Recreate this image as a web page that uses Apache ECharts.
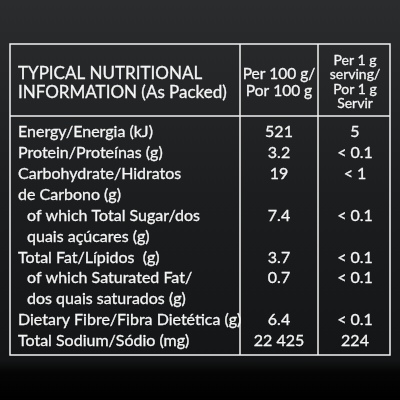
<!DOCTYPE html>
<html>
<head>
<meta charset="utf-8">
<script src="https://cdn.jsdelivr.net/npm/echarts@6/dist/echarts.min.js"></script>
<style>
  html,body{margin:0;padding:0;background:#000;}
  #main{width:400px;height:400px;}
</style>
</head>
<body>
<div id="main"></div>
<script>
// 行标签（两行的项目拆开写）
var rowLabels = [
  'Energy/Energia (kJ)',
  'Protein/Proteínas (g)',
  'Carbohydrate/Hidratos',
  'de Carbono (g)',
  '  of which Total Sugar/dos',
  '  quais açúcares (g)',
  'Total Fat/Lípidos  (g)',
  '  of which Saturated Fat/',
  '  dos quais saturados (g)',
  'Dietary Fibre/Fibra Dietética (g)',
  'Total Sodium/Sódio (mg)'
];
var per100 = ['521', '3.2', '19', '', '7.4', '', '3.7', '0.7', '', '6.4', '22 425'];
var perServing = ['5', '< 0.1', '< 1', '', '< 0.1', '', '< 0.1', '< 0.1', '', '< 0.1', '224'];
var headTitle = ['TYPICAL NUTRITIONAL', 'INFORMATION (As Packed)'];
var head100 = ['Per 100 g/', 'Por 100 g'];
var headServing = ['Per 1 g', 'serving/', 'Por 1 g', 'Servir'];

var font = 'Lato, "Open Sans", sans-serif';
var els = [];
/*背景*/
els.push({type:'rect', shape:{x:0,y:0,width:400,height:400}, style:{fill:{
  type:'linear',x:0,y:0,x2:0,y2:1,colorStops:[
    {offset:0,color:'#2b2c2e'},{offset:0.5,color:'#1c1d1f'},{offset:0.9,color:'#141516'},{offset:0.93,color:'#050505'},{offset:1,color:'#000'}]}}});
/*表格边框*/
var lineStyle = {stroke:'#f2f2f2', lineWidth:1.5, fill:null};
els.push({type:'rect', shape:{x:10,y:44,width:380,height:311}, style:lineStyle});
els.push({type:'line', shape:{x1:240,y1:44,x2:240,y2:355}, style:lineStyle});
els.push({type:'line', shape:{x1:318,y1:44,x2:318,y2:355}, style:lineStyle});
els.push({type:'line', shape:{x1:10,y1:116,x2:390,y2:116}, style:lineStyle});

function txt(s, x, y, align, size){
  els.push({type:'text', x:x, y:y, style:{text:s, fill:'#f4f4f4', font:'normal ' + (size||16) + 'px ' + font,
    textAlign:align||'left', textVerticalAlign:'middle', stroke:'#f4f4f4', lineWidth:0.3}});
}
//表头
headTitle.forEach(function(s,i){ txt(s, 18, 74 + i*19, 'left', 17); });
head100.forEach(function(s,i){ txt(s, 279, 74 + i*17, 'center', 15.5); });
headServing.forEach(function(s,i){ txt(s, 355, 60 + i*14.5, 'center', 14); });
//数据行
for(var i=0;i<rowLabels.length;i++){
  var y = 132 + i*20.9;
  var lab = rowLabels[i];
  var indent = lab.indexOf('  ')===0;
  txt(lab.trim(), indent ? 27 : 18, y, 'left');
  txt(per100[i], 279, y, 'center');
  txt(perServing[i], 355, y, 'center');
}

var chart = echarts.init(document.getElementById('main'));
chart.setOption({animation:false, graphic:{elements:els}});
</script>
</body>
</html>
